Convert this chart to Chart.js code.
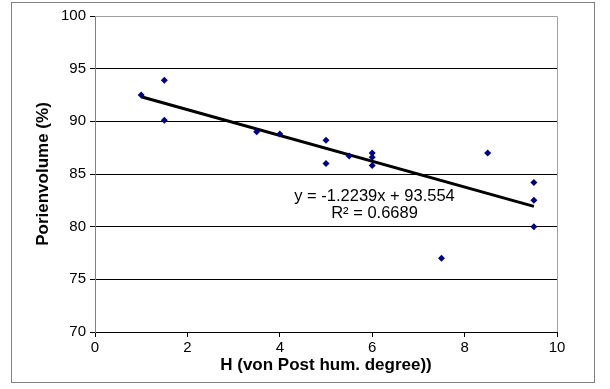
<!DOCTYPE html>
<html>
<head>
<meta charset="utf-8">
<script src="https://cdn.jsdelivr.net/npm/chart.js@4/dist/chart.umd.min.js"></script>
<style>
  html, body { margin: 0; padding: 0; background: #fff; }
  #wrap { width: 610px; height: 389px; }
</style>
</head>
<body>
<div id="wrap"><canvas id="plot" width="610" height="389"></canvas></div>
<script>
// measured points (H degree vs pore volume)
const hValues = [1.0, 1.5, 1.5, 3.5, 4.0, 5.0, 5.0, 5.5, 6.0, 6.0, 6.0, 7.5, 8.5, 9.5, 9.5, 9.5];
const poreValues = [92.5, 93.9, 90.1, 89.0, 88.8, 88.2, 86.0, 86.7, 87.0, 86.6, 85.8, 77.0, 87.0, 84.2, 82.5, 80.0];

// linear trendline as shown in the chart
const trendSlope = -1.2239;
const trendIntercept = 93.554;
const trendRange = [1.0, 9.5];
const equationLines = ["y = -1.2239x + 93.554", "R\u00b2 = 0.6689"];
const equationPos = [6.05, 82.9];

const xTicks = [0, 2, 4, 6, 8, 10];
const yTicks = [70, 75, 80, 85, 90, 95, 100];

const FONT = "'Liberation Sans', Arial, sans-serif";

const points = hValues.map((h, i) => ({ x: h, y: poreValues[i] }));
const trendPoints = trendRange.map((x) => ({ x: x, y: trendSlope * x + trendIntercept }));

const framePlugin = {
  id: "frame_and_equation",
  beforeDraw: (chart) => {
    const ctx = chart.ctx;
    ctx.save();
    ctx.fillStyle = "white";
    ctx.fillRect(0, 0, chart.width, chart.height);
    ctx.strokeStyle = "#808080";
    ctx.lineWidth = 1;
    ctx.strokeRect(11.5, 2.5, 583, 380);
    ctx.restore();
  },
  afterDatasetsDraw: (chart) => {
    const ctx = chart.ctx;
    const a = chart.chartArea;
    ctx.save();
    ctx.strokeStyle = "#a0a0a0";
    ctx.lineWidth = 1;
    ctx.beginPath();
    ctx.moveTo(a.left, Math.round(a.top) + 0.5);
    ctx.lineTo(Math.round(a.right) + 0.5, Math.round(a.top) + 0.5);
    ctx.lineTo(Math.round(a.right) + 0.5, a.bottom);
    ctx.stroke();
    const px = chart.scales.x.getPixelForValue(equationPos[0]);
    const py = chart.scales.y.getPixelForValue(equationPos[1]);
    ctx.fillStyle = "black";
    ctx.font = "16.5px " + FONT;
    ctx.textAlign = "center";
    ctx.textBaseline = "middle";
    equationLines.forEach((t, i) => ctx.fillText(t, px, py + i * 17));
    ctx.restore();
  },
};

const scatterChart = {
  type: "scatter",
  plugins: [framePlugin],
  data: {
    datasets: [
      {
        data: points,
        pointStyle: "rectRot",
        pointRadius: 3.5,
        pointHoverRadius: 3.5,
        backgroundColor: "#000080",
        borderColor: "#000080",
        borderWidth: 0,
      },
      {
        data: trendPoints,
        showLine: true,
        pointRadius: 0,
        borderColor: "black",
        borderWidth: 3,
      },
    ],
  },
  options: {
    responsive: false,
    animation: false,
    devicePixelRatio: 1,
    layout: { padding: { left: 12, right: 53, top: 16, bottom: 7 } },
    plugins: {
      legend: { display: false },
      tooltip: { enabled: false },
    },
    scales: {
      x: {
        type: "linear",
        min: 0,
        max: 10,
        afterBuildTicks: (s) => { s.ticks = xTicks.map((v) => ({ value: v })); },
        afterFit: (s) => { s.height = 50; },
        grid: { drawOnChartArea: false, color: "black", tickLength: 5 },
        border: { color: "black" },
        ticks: { color: "black", font: { size: 15, family: FONT }, padding: 2, maxRotation: 0 },
        title: {
          display: true,
          text: "H (von Post hum. degree))",
          color: "black",
          font: { size: 17, weight: "bold", family: FONT },
          padding: { top: 0, bottom: 6 },
        },
      },
      y: {
        type: "linear",
        min: 70,
        max: 100,
        afterBuildTicks: (s) => { s.ticks = yTicks.map((v) => ({ value: v })); },
        afterFit: (s) => { s.width = 83; },
        grid: {
          color: (c) => (c.tick && c.tick.value === 100 ? "#a0a0a0" : "black"),
          tickColor: "black",
          tickLength: 5,
        },
        border: { color: "#808080" },
        ticks: { color: "black", font: { size: 15, family: FONT }, padding: 4 },
        title: {
          display: true,
          text: "Porienvolume (%)",
          color: "black",
          font: { size: 17, weight: "bold", family: FONT },
          padding: { top: 21, bottom: 0 },
        },
      },
    },
  },
};

const canvas = document.getElementById("plot");
const chart = new Chart(canvas.getContext("2d"), scatterChart);
</script>
</body>
</html>
